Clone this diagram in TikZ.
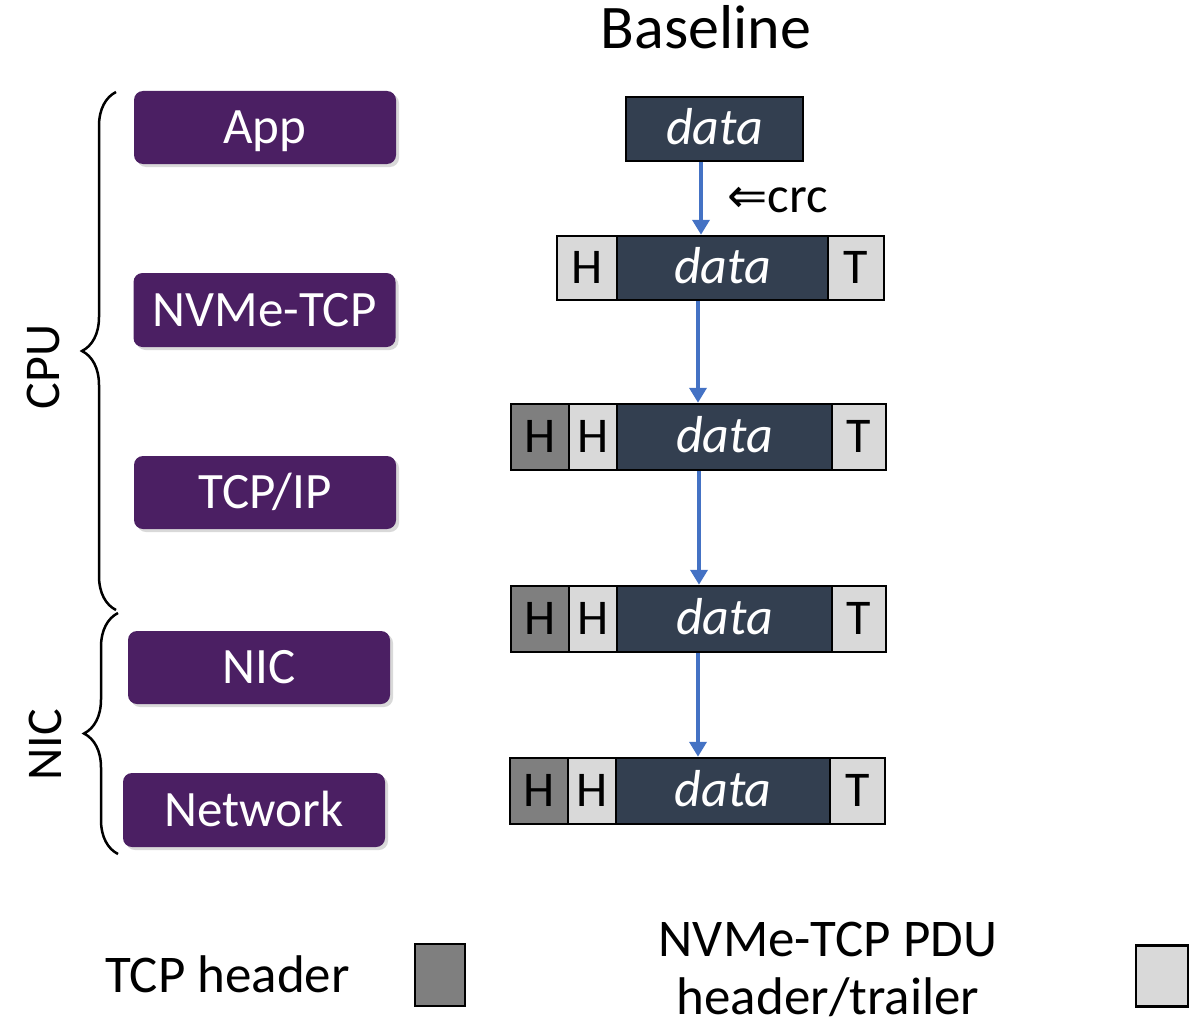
\documentclass[tikz,border=0pt]{standalone}
\usepackage{fontspec}
\setmainfont{Carlito}
\newfontfamily\arrowfont{DejaVu Sans}
\usetikzlibrary{arrows.meta,shadows,decorations.pathreplacing}
\definecolor{layer}{HTML}{4B1F63}
\definecolor{payload}{HTML}{333F50}
\definecolor{pduhdr}{HTML}{D9D9D9}
\definecolor{tcphdr}{HTML}{7F7F7F}
\definecolor{flowblue}{HTML}{4472C4}
\begin{document}
\begin{tikzpicture}[x=1pt,y=-1pt,
  layerbox/.style={fill=layer, text=white, rounded corners=9pt, inner sep=0pt,
    minimum width=262pt, minimum height=73pt,
    font=\fontsize{51}{60}\selectfont, text height=32pt, text depth=0pt,
    drop shadow={shadow xshift=3pt, shadow yshift=-3pt, opacity=0.3}},
  cell/.style={draw=black, line width=2.5pt, inner sep=0pt, minimum height=64pt,
    font=\fontsize{50}{60}\selectfont, text height=31pt, text depth=0pt},
  payloadcell/.style={cell, fill=payload, text=white, font=\fontsize{52}{60}\selectfont\itshape},
  pducell/.style={cell, fill=pduhdr},
  tcpcell/.style={cell, fill=tcphdr},
  flow/.style={draw=flowblue, line width=4.5pt, -{Triangle[width=17pt,length=15pt]}},
  curly/.style={draw=black, line width=2.5pt, decorate,
    decoration={brace, amplitude=34pt, aspect=0.5}},
  sidelabel/.style={rotate=90, font=\fontsize{50}{60}\selectfont},
  legendtext/.style={font=\fontsize{53}{58}\selectfont}
]
\useasboundingbox (0,0) rectangle (1190,1030);

% title
\node[font=\fontsize{62}{66}\selectfont, anchor=base] (title) at (706,49) {Baseline};

% protocol layers
\node[layerbox] (app)  at (265,127.5) {App};
\node[layerbox, minimum height=74pt] (nvme) at (264.5,310) {NVMe-TCP};
\node[layerbox] (tcpip) at (265,492.5) {TCP/IP};
\node[layerbox] (nic)  at (259,667.5) {NIC};
\node[layerbox, minimum height=74pt] (net) at (254,810) {Network};

% braces grouping the layers
\coordinate (cputop) at (116,92);
\coordinate (cpubot) at (116,610);
\coordinate (nictop) at (118,613);
\coordinate (nicbot) at (118,854);
\draw[curly] (cpubot) -- (cputop);
\draw[curly] (nicbot) -- (nictop);
\node[sidelabel] (cpulbl) at (43,367) {CPU};
\node[sidelabel] (niclbl) at (45,745) {NIC};

% row 1: application data
\node[payloadcell, minimum width=177pt] (d1) at (714.5,129) {data};

% row 2: NVMe-TCP PDU
\node[pducell, minimum width=60pt]  (h2) at (587,268) {H};
\node[payloadcell, minimum width=211pt] (d2) at (722.5,268) {data};
\node[pducell, minimum width=56pt]  (t2) at (856,268) {T};

% row 3: TCP segment
\node[tcpcell, minimum width=58pt, minimum height=66pt] (g3) at (540,437) {H};
\node[pducell, minimum width=48pt, minimum height=66pt] (h3) at (593,437) {H};
\node[payloadcell, minimum width=215pt, minimum height=66pt] (d3) at (724.5,437) {data};
\node[pducell, minimum width=54pt, minimum height=66pt] (t3) at (859,437) {T};

% row 4: at the NIC
\node[tcpcell, minimum width=58pt, minimum height=66pt] (g4) at (540,619) {H};
\node[pducell, minimum width=48pt, minimum height=66pt] (h4) at (593,619) {H};
\node[payloadcell, minimum width=215pt, minimum height=66pt] (d4) at (724.5,619) {data};
\node[pducell, minimum width=54pt, minimum height=66pt] (t4) at (859,619) {T};

% row 5: on the wire
\node[tcpcell, minimum width=58pt, minimum height=66pt] (g5) at (539,791) {H};
\node[pducell, minimum width=48pt, minimum height=66pt] (h5) at (592,791) {H};
\node[payloadcell, minimum width=214pt, minimum height=66pt] (d5) at (723,791) {data};
\node[pducell, minimum width=55pt, minimum height=66pt] (t5) at (857.5,791) {T};

% processing steps
\draw[flow] ([xshift=-13.5pt]d1.south) -- ([xshift=-21.5pt]d2.north);
\draw[flow] ([xshift=-24.5pt]d2.south) -- ([xshift=-26.5pt]d3.north);
\draw[flow] ([xshift=-25.5pt]d3.south) -- ([xshift=-25.5pt]d4.north);
\draw[flow] ([xshift=-26.5pt]d4.south) -- ([xshift=-25pt]d5.north);
\node[anchor=base west, font=\fontsize{51}{60}\selectfont, inner sep=0pt] (crc) at (727,212)
  {{\arrowfont\fontsize{48}{60}\selectfont ⇐}crc};

% legend
\node[legendtext, anchor=base west, inner sep=0pt] (lgtcp) at (105,992) {TCP header};
\node[tcpcell, minimum width=50pt, minimum height=62pt] (lgtcpbox) at (440,975) {};
\node[legendtext, align=center, anchor=base, inner sep=0pt] (lgpdu) at (828,1014) {NVMe-TCP PDU\\header/trailer};
\node[pducell, minimum width=52pt, minimum height=61pt] (lgpdubox) at (1162,976) {};
\end{tikzpicture}
\end{document}
